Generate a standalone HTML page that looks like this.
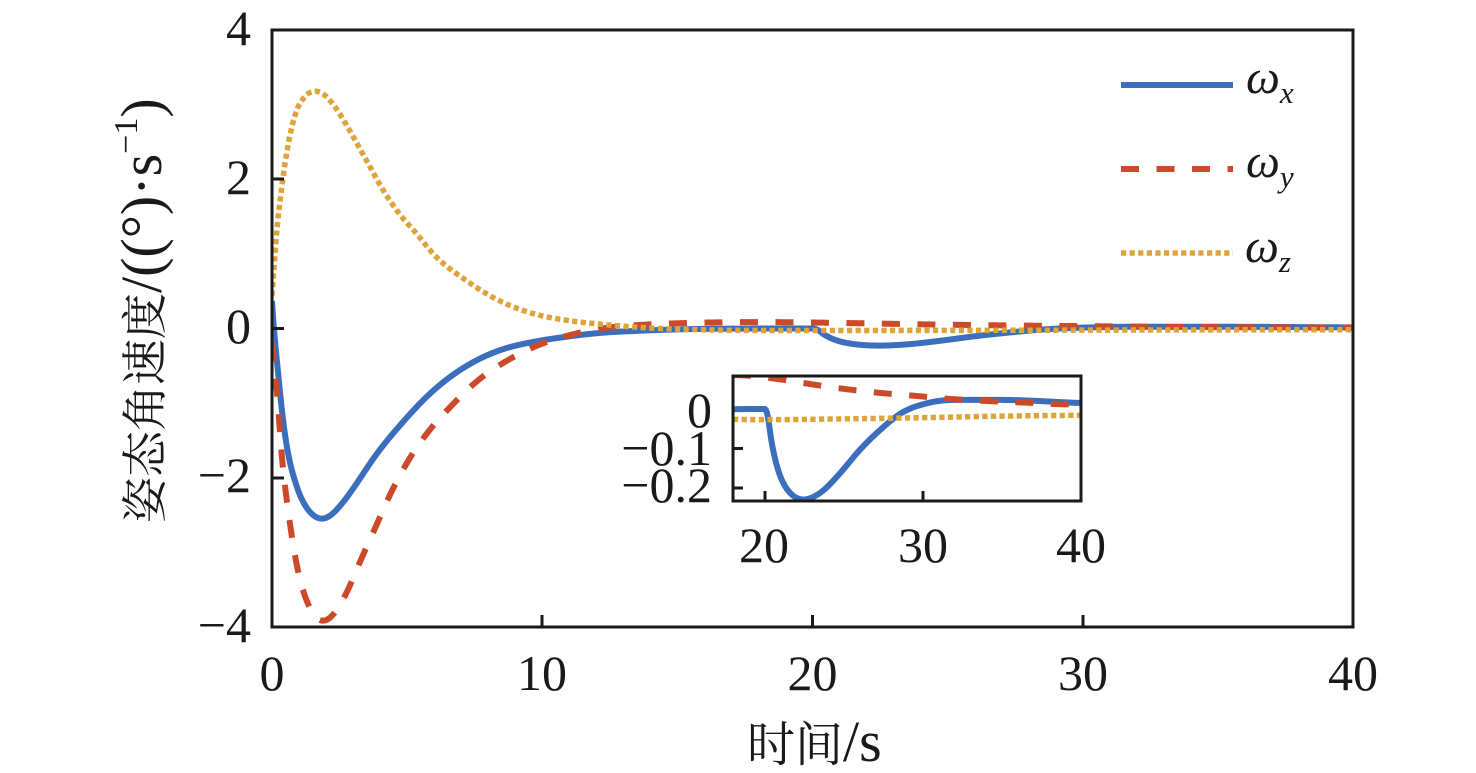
<!DOCTYPE html>
<html><head><meta charset="utf-8"><style>
html,body{margin:0;padding:0;background:#fff;}
svg{display:block;}
.tk{font-family:"Liberation Serif","Times New Roman",serif;font-size:50px;fill:#1a1a1a;}
</style></head><body>
<svg id="s" width="1476" height="773" viewBox="0 0 1476 773" xmlns="http://www.w3.org/2000/svg">
<rect x="0" y="0" width="1476" height="773" fill="#fff"/>
<defs>
<clipPath id="cm"><rect x="272" y="30" width="1081" height="597"/></clipPath>
<clipPath id="ci"><rect x="733" y="376" width="348" height="125"/></clipPath>
</defs>
<g clip-path="url(#cm)" fill="none">
<path id="mb" stroke="#3b6fbe" stroke-width="6" stroke-linejoin="round"/>
<path id="mr" stroke="#cc4a2a" stroke-width="6" stroke-dasharray="18 17.5"/>
<path id="my" stroke="#dea43a" stroke-width="5.5" stroke-dasharray="5.2 3.4"/>
</g>
<rect x="272" y="30" width="1081" height="597" fill="none" stroke="#1a1a1a" stroke-width="3"/>
<g stroke="#1a1a1a" stroke-width="3">
<line x1="272" y1="179" x2="284" y2="179"/>
<line x1="272" y1="328.5" x2="284" y2="328.5"/>
<line x1="272" y1="478" x2="284" y2="478"/>
<line x1="542" y1="627" x2="542" y2="615"/>
<line x1="812.5" y1="627" x2="812.5" y2="615"/>
<line x1="1083" y1="627" x2="1083" y2="615"/>
</g>
<g class="tk" text-anchor="end">
<text x="251" y="45">4</text>
<text x="251" y="194">2</text>
<text x="251" y="343">0</text>
<text x="251" y="492">−2</text>
<text x="251" y="642">−4</text>
</g>
<g class="tk" text-anchor="middle">
<text x="272" y="690">0</text>
<text x="542" y="690">10</text>
<text x="812.5" y="690">20</text>
<text x="1083" y="690">30</text>
<text x="1353" y="690">40</text>
</g>
<!-- inset -->
<rect x="733" y="376" width="348" height="125" fill="#fff"/>
<g clip-path="url(#ci)" fill="none">
<path id="ib" stroke="#3b6fbe" stroke-width="6" stroke-linejoin="round"/>
<path id="ir" stroke="#cc4a2a" stroke-width="6" stroke-dasharray="18 17.5"/>
<path id="iy" stroke="#dea43a" stroke-width="5.5" stroke-dasharray="5.2 3.4"/>
</g>
<rect x="733" y="376" width="348" height="125" fill="none" stroke="#1a1a1a" stroke-width="3"/>
<g stroke="#1a1a1a" stroke-width="3">
<line x1="733" y1="448.5" x2="743" y2="448.5"/>
<line x1="733" y1="488" x2="743" y2="488"/>
<line x1="765" y1="501" x2="765" y2="491"/>
<line x1="923" y1="501" x2="923" y2="491"/>
</g>
<g class="tk" text-anchor="end">
<text x="712" y="427">0</text>
<text x="712" y="465">−0.1</text>
<text x="712" y="502">−0.2</text>
</g>
<g class="tk" text-anchor="middle">
<text x="764" y="562">20</text>
<text x="923" y="562">30</text>
<text x="1081" y="562">40</text>
</g>
<!-- legend -->
<line x1="1121" y1="85" x2="1233" y2="85" stroke="#3b6fbe" stroke-width="6"/>
<line x1="1121" y1="169" x2="1233" y2="169" stroke="#cc4a2a" stroke-width="6" stroke-dasharray="18 17.5"/>
<line x1="1121" y1="253" x2="1233" y2="253" stroke="#dea43a" stroke-width="5.5" stroke-dasharray="5.2 3.4"/>
<g style="font-family:'Liberation Serif','Times New Roman',serif;font-style:italic" fill="#1a1a1a">
<text x="1246" y="93" font-size="48">ω<tspan font-size="31" dy="10">x</tspan></text>
<text x="1246" y="177" font-size="48">ω<tspan font-size="31" dy="10">y</tspan></text>
<text x="1245" y="262" font-size="48">ω<tspan font-size="31" dy="10">z</tspan></text>
</g>
<!-- axis labels -->
<text x="747" y="761" fill="#1a1a1a"><tspan font-size="48" style="font-family:'Noto Serif CJK SC','Noto Sans CJK SC',serif">时间</tspan><tspan font-size="58" style="font-family:'Liberation Serif',serif">/s</tspan></text>
<text transform="translate(161,523) rotate(-90)" fill="#1a1a1a"><tspan font-size="46" style="font-family:'Noto Serif CJK SC','Noto Sans CJK SC',serif">姿态角速度</tspan><tspan font-size="58" style="font-family:'Liberation Serif',serif">/((°)·s</tspan><tspan font-size="34" dy="-24" style="font-family:'Liberation Serif',serif">−1</tspan><tspan font-size="58" dy="24" style="font-family:'Liberation Serif',serif">)</tspan></text>
</svg>
<script>
(function(){
function spline(xs,ys){
  var n=xs.length,d=[],h=[],m=[];
  for(var i=0;i<n-1;i++){h[i]=xs[i+1]-xs[i];d[i]=(ys[i+1]-ys[i])/h[i];}
  m[0]=d[0];m[n-1]=d[n-2];
  for(var i=1;i<n-1;i++){
    if(d[i-1]*d[i]<=0){m[i]=0;}
    else{
      var v=(h[i]*d[i-1]+h[i-1]*d[i])/(h[i-1]+h[i]);
      var lim=3*Math.min(Math.abs(d[i-1]),Math.abs(d[i]));
      if(Math.abs(v)>lim)v=(v>0?1:-1)*lim;
      m[i]=v;
    }
  }
  return function(x){
    var i=0;
    if(x<=xs[0])return ys[0];
    if(x>=xs[n-1])return ys[n-1];
    while(i<n-2&&x>xs[i+1])i++;
    var hh=h[i],t=(x-xs[i])/hh,t2=t*t,t3=t2*t;
    return (2*t3-3*t2+1)*ys[i]+(t3-2*t2+t)*hh*m[i]+(-2*t3+3*t2)*ys[i+1]+(t3-t2)*hh*m[i+1];
  };
}
function mk(p){var xs=[],ys=[];for(var i=0;i<p.length;i++){xs.push(p[i][0]);ys.push(p[i][1]);}return spline(xs,ys);}
var B=[[0,0.37],[0.05,0.1],[0.11,-0.16],[0.23,-0.61],[0.42,-1.28],[0.67,-1.86],[1.03,-2.26],[1.4,-2.48],[1.9,-2.57],[2.5,-2.39],[3.13,-2.08],[3.75,-1.74],[4.73,-1.30],[5.97,-0.83],[7.2,-0.5],[8.43,-0.29],[9.66,-0.18],[10.9,-0.11],[12.1,-0.06],[13.6,-0.03],[15,-0.012],[17,-0.002],[20,0],[20.15,-0.01],[20.45,-0.087],[20.97,-0.171],[21.6,-0.213],[22.45,-0.23],[23.5,-0.213],[24.76,-0.163],[26.0,-0.104],[27.3,-0.053],[28.6,-0.011],[30.2,0.014],[31.9,0.023],[34.9,0.023],[40,0.015]];
var R=[[0,-0.2],[0.1,-0.55],[0.23,-1.05],[0.36,-1.72],[0.6,-2.46],[0.91,-3.22],[1.28,-3.66],[1.77,-3.93],[2.0,-3.93],[2.27,-3.84],[2.76,-3.55],[3.25,-3.13],[3.8,-2.69],[4.36,-2.23],[5.04,-1.77],[5.7,-1.42],[6.6,-1.05],[7.6,-0.70],[8.7,-0.43],[9.8,-0.23],[11,-0.09],[12.4,0.01],[13.5,0.045],[15,0.07],[17,0.084],[18,0.086],[21,0.075],[22.9,0.063],[25.2,0.05],[27.5,0.04],[29.6,0.033],[31.9,0.025],[34.2,0.02],[36.6,0.016],[38.8,0.012],[40,0.011]];
var Y=[[0,0.44],[0.08,0.85],[0.17,1.27],[0.36,1.89],[0.6,2.47],[0.91,2.92],[1.2,3.1],[1.59,3.18],[1.9,3.14],[2.27,3.0],[2.88,2.65],[3.5,2.25],[4.12,1.85],[4.73,1.53],[5.35,1.27],[5.97,1.0],[7.2,0.64],[8.43,0.37],[9.66,0.2],[10.9,0.11],[12,0.063],[12.7,0.04],[13.6,0.015],[14.7,-0.005],[16,-0.018],[18,-0.026],[20,-0.027],[25,-0.025],[30,-0.022],[35,-0.018],[40,-0.016]];
var fb0=mk(B),fr0=mk(R),fy=mk(Y);
function smoothed(f,sigFn){
  return function(t){
    var s=sigFn(t);
    if(s<0.005)return f(t);
    var sum=0,ws=0,N=24;
    for(var j=-N;j<=N;j++){
      var u=t+j*s/8;
      if(u<0||u>40)continue;
      var w=Math.exp(-0.5*(j/8)*(j/8));
      sum+=w*f(u);ws+=w;
    }
    return sum/ws;
  };
}
function cl(x){return x<0?0:(x>1?1:x);}
var fb=smoothed(fb0,function(t){return 0.22*cl((t-0.15)/0.7)*cl(Math.abs(t-20)/1.2);});
var fr=smoothed(fr0,function(t){return 0.18*cl((t-0.15)/0.6);});
function path(f,t0,t1,X,Yf){
  var s="",step=0.01;
  for(var t=t0;t<=t1+1e-9;t+=step){
    var x=X(t),y=Yf(f(t));
    s+=(s?"L":"M")+x.toFixed(2)+" "+y.toFixed(2);
  }
  return s;
}
var MX=function(t){return 272+t*27.025;},MY=function(v){return 328.5-v*74.6;};
var IX=function(t){return 733+(t-18)*15.82;},IY=function(v){return 409-v*395;};
document.getElementById("mb").setAttribute("d",path(fb,0,40,MX,MY));
document.getElementById("mr").setAttribute("d",path(fr,0,40,MX,MY));
document.getElementById("my").setAttribute("d",path(fy,0,40,MX,MY));
document.getElementById("ib").setAttribute("d",path(fb,18,40,IX,IY));
document.getElementById("ir").setAttribute("d",path(fr,18,40,IX,IY));
document.getElementById("iy").setAttribute("d",path(fy,18,40,IX,IY));
})();
</script>
</body></html>
